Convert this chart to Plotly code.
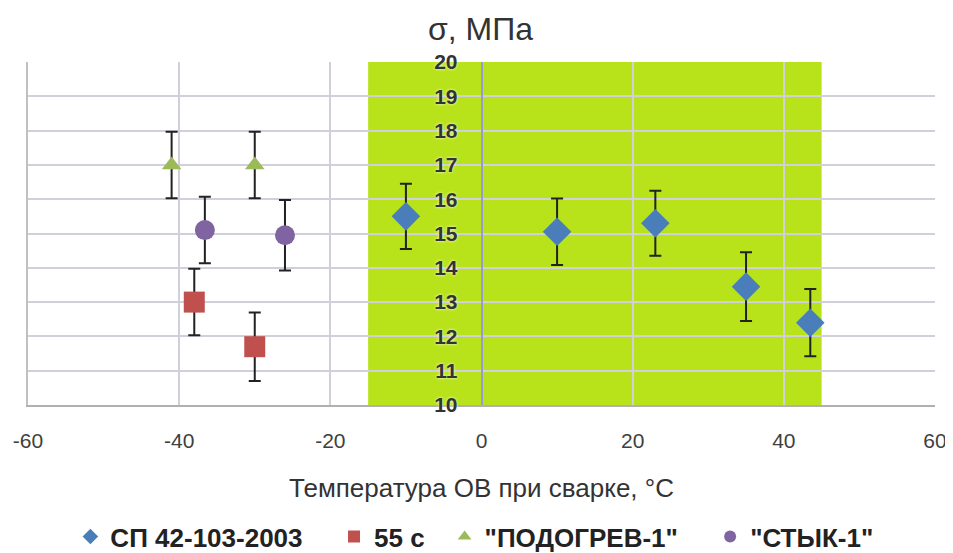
import plotly.graph_objects as go

# Data
sp_x = [-10, 10, 23, 35, 43.5]
sp_y = [15.5, 15.05, 15.3, 13.45, 12.4]
sp_err = [0.95, 0.97, 0.95, 1.0, 0.98]

s55_x = [-38, -30]
s55_y = [13.0, 11.7]
s55_err = [0.97, 1.0]

pod_x = [-41, -30]
pod_y = [17.0, 17.0]
pod_err = [0.97, 0.97]

styk_x = [-36.6, -26]
styk_y = [15.1, 14.95]
styk_err = [0.97, 1.03]

green_zone = [-15, 45]

x_ticks = [-60, -40, -20, 0, 20, 40, 60]
x_tick_labels = ["-60", "-40", "-20", "0", "20", "40", "60"]
x_grid = [-60, -40, -20, 0, 20, 40]
y_ticks = list(range(10, 21))

series = [
    ("СП 42-103-2003", sp_x, sp_y, sp_err, "diamond", "#4a7ebb", 22, "legend", "x2", "y"),
    ("55 с", s55_x, s55_y, s55_err, "square", "#c0504d", 21, "legend2", "x", "y2"),
    ("\"ПОДОГРЕВ-1\"", pod_x, pod_y, pod_err, "triangle-up", "#9bbb59", 17, "legend3", "x", "y"),
    ("\"СТЫК-1\"", styk_x, styk_y, styk_err, "circle", "#8064a2", 20, "legend4", "x", "y"),
]

W, H = 945, 545

fig = go.Figure()
for name, xs, ys, errs, sym, col, sz, lg, xa, ya in series:
    fig.add_trace(go.Scatter(
        x=xs, y=ys, mode="markers", name=name, legend=lg, xaxis=xa, yaxis=ya,
        marker=dict(symbol=sym, color=col, size=sz, line=dict(width=0)),
        error_y=dict(type="data", array=errs, visible=True,
                     color="#222222", thickness=2, width=6),
    ))

fig.add_shape(type="rect", xref="x", yref="y",
              x0=green_zone[0], x1=green_zone[1], y0=10, y1=20,
              fillcolor="#b8e31a", line=dict(width=0), layer="below")

grid_col = "#d0d0dc"
leg_font = dict(size=26, color="#222222", family="Liberation Sans, Arial, sans-serif",
                weight="bold")
leg_common = dict(orientation="h", xref="container", yref="container",
                  y=0.03, yanchor="middle", xanchor="left",
                  font=leg_font, itemsizing="constant", itemwidth=30,
                  bgcolor="rgba(0,0,0,0)")

fig.update_layout(
    width=W, height=H,
    paper_bgcolor="white", plot_bgcolor="white",
    margin=dict(l=20, r=18, t=54, b=148),
    font=dict(family="Liberation Sans, Arial, sans-serif", color="#404040"),
    title=dict(text="σ, МПа", x=0.5, xanchor="center", y=0.962, yanchor="middle",
               font=dict(size=32, color="#333333")),
    xaxis=dict(range=[-60, 60], tickvals=x_ticks, ticktext=x_tick_labels,
               showgrid=False, zeroline=False, automargin=False,
               showline=True, linecolor="#b0b0b0", linewidth=2,
               ticks="", tickfont=dict(size=21, color="#404040"),
               ticklabelstandoff=16,
               title=dict(text="Температура ОВ при сварке, °C",
                          font=dict(size=26, color="#333333"), standoff=28)),
    xaxis2=dict(range=[-60, 60], tickvals=x_grid, overlaying="x", anchor="y",
                matches="x", side="bottom",
                showgrid=True, gridcolor=grid_col, gridwidth=2,
                showticklabels=False, zeroline=False, showline=False, ticks=""),
    yaxis=dict(range=[10, 20], tickvals=y_ticks, showgrid=True,
               gridcolor=grid_col, gridwidth=2, zeroline=False, automargin=False,
               anchor="free", position=0.5, side="left",
               showline=True, linecolor="#9a9ad8", linewidth=1.5,
               ticks="", ticklabelstandoff=19,
               tickfont=dict(size=21, color="#333333", weight="bold",
                             shadow="0px 0px 3px white")),
    yaxis2=dict(range=[10, 20], matches="y", overlaying="y", anchor="x", side="left",
                showgrid=False, showticklabels=False, zeroline=False, ticks="",
                showline=True, linecolor="#c0c0c0", linewidth=2),
    legend=dict(x=0.066, **leg_common),
    legend2=dict(x=0.345, **leg_common),
    legend3=dict(x=0.462, **leg_common),
    legend4=dict(x=0.743, **leg_common),
    showlegend=True,
)

fig.write_html("out.html")
